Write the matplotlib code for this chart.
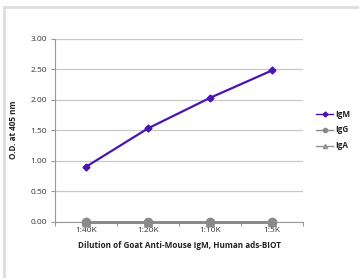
import matplotlib
matplotlib.use("Agg")
import matplotlib.pyplot as plt
from matplotlib.lines import Line2D

categories = ["1:40K", "1:20K", "1:10K", "1:5K"]
igm = [0.90, 1.53, 2.03, 2.48]
igg = [0.0, 0.0, 0.0, 0.0]
iga = [0.0, 0.0, 0.0, 0.0]
yticks = [0.0, 0.5, 1.0, 1.5, 2.0, 2.5, 3.0]

plt.rcParams['font.family'] = ['Open Sans', 'DejaVu Sans']

W, H = 359, 278
fig = plt.figure(figsize=(W/100, H/100), dpi=100)
ax = fig.add_axes([55/W, 1-221.7/H, (303-55)/W, (221.7-38.7)/H])

c_igm, c_igg, c_iga = "#4a14b4", "#8a8a8a", "#939393"
x = list(range(1, len(categories)+1))
ax.plot(x, iga, color=c_iga, lw=2, marker="^", ms=6, clip_on=False, zorder=3)
ax.plot(x, igg, color=c_igg, lw=2, marker="o", ms=6, clip_on=False, zorder=4)
ax.plot(x, igm, color=c_igm, lw=1.6, marker="D", ms=3.5, clip_on=False, zorder=5)

ax.set_xlim(0.5, len(categories)+0.5)
ax.set_ylim(0, 3)
ax.set_yticks(yticks)
ax.set_yticklabels([f"{v:.2f}" for v in yticks])
ax.set_xticks(x)
ax.set_xticklabels(categories)
ax.set_xticks([i+0.5 for i in range(0, len(categories)+1)], minor=True)
ax.tick_params(axis='x', which='major', length=0, labelsize=6, colors="#333333", pad=4)
ax.tick_params(axis='x', which='minor', length=3, color="#999999", width=0.8)
ax.tick_params(axis='y', length=3, color="#999999", width=0.8, labelsize=6, labelcolor="#333333", pad=3)
ax.grid(axis='y', color="#c8c8c8", lw=0.9)
ax.set_axisbelow(True)
for s in ['top', 'right']:
    ax.spines[s].set_visible(False)
for s in ['left', 'bottom']:
    ax.spines[s].set_color("#999999")
    ax.spines[s].set_linewidth(0.8)

ax.set_xlabel("Dilution of Goat Anti-Mouse IgM, Human ads-BIOT", fontsize=5.9, fontweight='bold', labelpad=5, color="#222222")
ax.set_ylabel("O.D. at 405 nm", fontsize=5.9, fontweight='bold', labelpad=9, color="#222222")

handles = [Line2D([], [], color=c_igm, lw=1.0, marker="D", ms=2.5),
           Line2D([], [], color=c_igg, lw=1.0, marker="o", ms=3),
           Line2D([], [], color=c_iga, lw=1.0, marker="^", ms=3)]
leg = fig.legend(handles, ["IgM", "IgG", "IgA"], loc='center left',
                 bbox_to_anchor=(309/W, 1-130/H), frameon=False, fontsize=5.9,
                 handlelength=2.0, handletextpad=0.3, labelspacing=0.85)
for t in leg.get_texts():
    t.set_fontweight('bold')
    t.set_color("#222222")

fig.add_artist(Line2D([3.5/W, 1], [1-7/H, 1-7/H], color="#dddddd", lw=2, transform=fig.transFigure))
fig.add_artist(Line2D([3.5/W, 3.5/W], [0, 1-7/H], color="#dddddd", lw=2, transform=fig.transFigure))

fig.savefig("out.png", dpi=100)
